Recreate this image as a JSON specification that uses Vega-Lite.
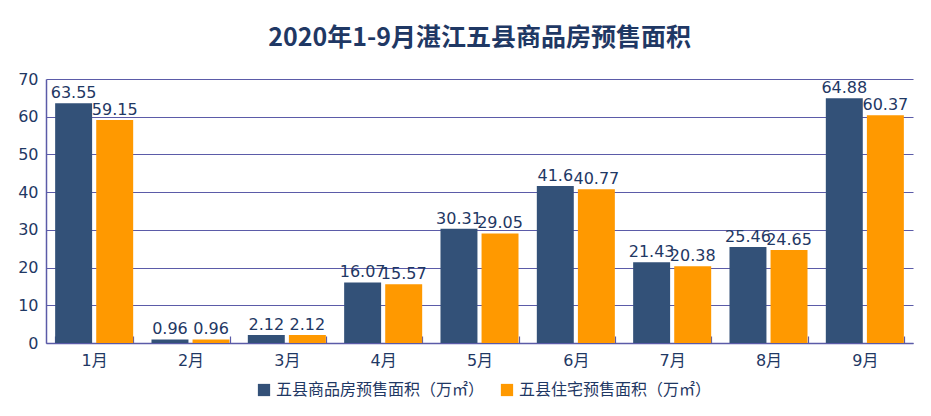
{
  "$schema": "https://vega.github.io/schema/vega-lite/v6.json",
  "width": 867,
  "height": 264,
  "autosize": {"type": "none"},
  "padding": {"left": 46, "top": 79, "right": 18, "bottom": 73},
  "background": "white",
  "title": {
    "text": "2020年1-9月湛江五县商品房预售面积",
    "anchor": "middle",
    "fontSize": 25,
    "fontWeight": "bold",
    "font": "Noto Sans CJK SC",
    "color": "#1F3864",
    "offset": 20
  },
  "config": {
    "font": "DejaVu Sans, Noto Sans CJK SC",
    "view": {"stroke": null}
  },
  "data": {
    "values": [
      {"month": "1月", "series": "五县商品房预售面积（万㎡）", "value": 63.55},
      {"month": "1月", "series": "五县住宅预售面积（万㎡）", "value": 59.15},
      {"month": "2月", "series": "五县商品房预售面积（万㎡）", "value": 0.96},
      {"month": "2月", "series": "五县住宅预售面积（万㎡）", "value": 0.96},
      {"month": "3月", "series": "五县商品房预售面积（万㎡）", "value": 2.12},
      {"month": "3月", "series": "五县住宅预售面积（万㎡）", "value": 2.12},
      {"month": "4月", "series": "五县商品房预售面积（万㎡）", "value": 16.07},
      {"month": "4月", "series": "五县住宅预售面积（万㎡）", "value": 15.57},
      {"month": "5月", "series": "五县商品房预售面积（万㎡）", "value": 30.31},
      {"month": "5月", "series": "五县住宅预售面积（万㎡）", "value": 29.05},
      {"month": "6月", "series": "五县商品房预售面积（万㎡）", "value": 41.6},
      {"month": "6月", "series": "五县住宅预售面积（万㎡）", "value": 40.77},
      {"month": "7月", "series": "五县商品房预售面积（万㎡）", "value": 21.43},
      {"month": "7月", "series": "五县住宅预售面积（万㎡）", "value": 20.38},
      {"month": "8月", "series": "五县商品房预售面积（万㎡）", "value": 25.46},
      {"month": "8月", "series": "五县住宅预售面积（万㎡）", "value": 24.65},
      {"month": "9月", "series": "五县商品房预售面积（万㎡）", "value": 64.88},
      {"month": "9月", "series": "五县住宅预售面积（万㎡）", "value": 60.37}
    ]
  },
  "encoding": {
    "x": {
      "field": "month",
      "type": "nominal",
      "sort": null,
      "scale": {"paddingInner": 0.19, "paddingOuter": 0.095},
      "axis": {
        "title": null,
        "labelAngle": 0,
        "labelFontSize": 16,
        "labelColor": "#1F3864",
        "labelPadding": 16,
        "domainColor": "#5B5BA8",
        "domainWidth": 1.5,
        "tickBand": "extent",
        "tickColor": "#5B5BA8",
        "tickWidth": 1.2,
        "tickSize": -7,
        "ticks": true
      }
    },
    "xOffset": {
      "field": "series",
      "sort": null,
      "scale": {"paddingInner": 0.1}
    },
    "y": {
      "field": "value",
      "type": "quantitative",
      "scale": {"domain": [0, 70]},
      "axis": {
        "title": null,
        "values": [0, 10, 20, 30, 40, 50, 60, 70],
        "labelFontSize": 16,
        "labelColor": "#1F3864",
        "labelPadding": 8,
        "ticks": false,
        "domainColor": "#5B5BA8",
        "domainWidth": 1.5,
        "gridColor": "#5B5BA8",
        "gridWidth": 1.2,
        "gridOpacity": 1
      }
    }
  },
  "layer": [
    {
      "mark": {"type": "bar"},
      "encoding": {
        "color": {
          "field": "series",
          "type": "nominal",
          "sort": null,
          "scale": {"range": ["#335178", "#FF9900"]},
          "legend": {
            "title": null,
            "orient": "none",
            "legendX": 210,
            "legendY": 303,
            "direction": "horizontal",
            "symbolType": "square",
            "symbolSize": 150,
            "symbolStrokeWidth": 0,
            "labelFontSize": 16,
            "labelLimit": 400,
            "labelColor": "#1F3864",
            "labelFont": "Noto Sans CJK SC",
            "columnPadding": 14
          }
        }
      }
    },
    {
      "mark": {"type": "text", "baseline": "bottom", "dy": -2, "fontSize": 16, "color": "#1F3864"},
      "encoding": {
        "text": {"field": "value", "type": "quantitative"}
      }
    }
  ]
}
